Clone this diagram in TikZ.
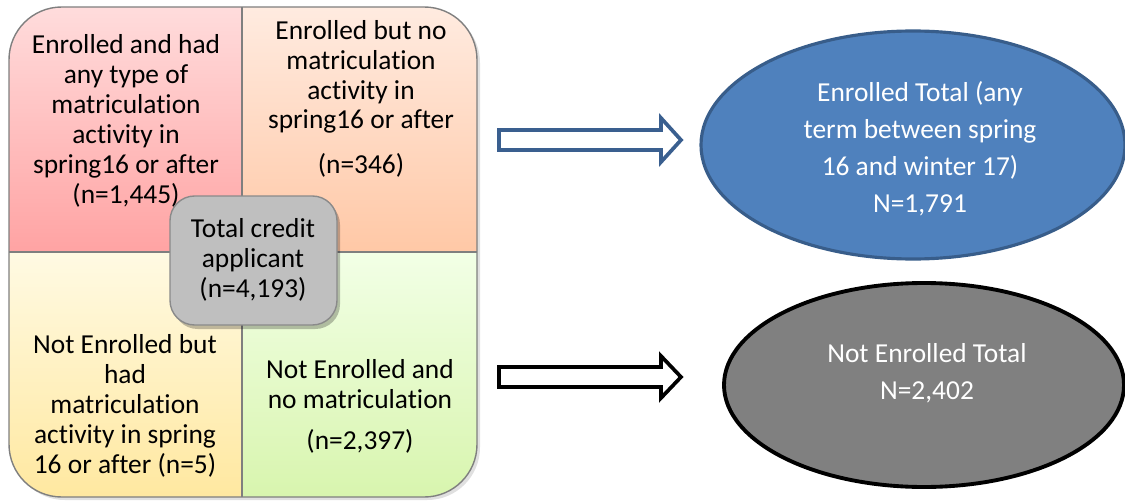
\documentclass[tikz,border=0pt]{standalone}
\usepackage{fontspec}
\setmainfont{Carlito}[Ligatures={NoCommon}]
\usetikzlibrary{shapes.geometric,shadows}
\definecolor{tlA}{HTML}{FFDCDC}\definecolor{tlB}{HTML}{FFA3A3}
\definecolor{trA}{HTML}{FFEBE0}\definecolor{trB}{HTML}{FFC8A6}
\definecolor{blA}{HTML}{FFFAE3}\definecolor{blB}{HTML}{FFE8A0}
\definecolor{brA}{HTML}{F2FFE6}\definecolor{brB}{HTML}{D8F5AE}
\definecolor{frame}{HTML}{7F7F7F}
\definecolor{blueF}{HTML}{4F81BD}\definecolor{blueS}{HTML}{385D8A}
\definecolor{arrowblue}{HTML}{3A5F8F}
\definecolor{grayF}{HTML}{808080}
\definecolor{boxF}{HTML}{BFBFBF}\definecolor{boxS}{HTML}{8A8A8A}
\begin{document}
\begin{tikzpicture}[x=0.02cm,y=-0.02cm,
  txt/.style={align=center,font=\fontsize{15.6}{17}\selectfont,inner sep=0pt},
  wtxt/.style={align=center,inner sep=0pt,text=white,font=\fontsize{15.6}{21}\selectfont},
  blockarrow/.style={line width=2.1pt,fill=white,line join=miter}]
\useasboundingbox (0,0) rectangle (1125,500);
% quadrants
\fill[black,opacity=0.12,rounded corners=30] (12,10) rectangle (480,500);
\begin{scope}
\clip[rounded corners=30] (9,7) rectangle (477,497);
\shade[top color=tlA,bottom color=tlB] (9,7) rectangle (242,252);
\shade[top color=trA,bottom color=trB] (242,7) rectangle (477,252);
\shade[top color=blA,bottom color=blB] (9,252) rectangle (242,497);
\shade[top color=brA,bottom color=brB] (242,252) rectangle (477,497);
\end{scope}
\draw[frame,line width=0.8pt] (242,7) -- (242,497) (9,252) -- (477,252);
\draw[frame,line width=0.8pt,rounded corners=30] (9,7) rectangle (477,497);
% quadrant texts
\node[txt] (tl) at (126,121) {Enrolled and had\\any type of\\matriculation\\activity in\\spring16 or after\\(n=1,445)};
\node[txt] (tr) at (361,77) {Enrolled but no\\matriculation\\activity in\\spring16 or after};
\node[txt] (trn) at (361,165) {(n=346)};
\node[txt] (bl) at (125,406) {Not Enrolled but\\had\\matriculation\\activity in spring\\16 or after (n=5)};
\node[txt] (br) at (360,384) {Not Enrolled and\\no matriculation};
\node[txt] (brn) at (360,441) {(n=2,397)};
% center box
\fill[black,opacity=0.25,rounded corners=14] (173,200) rectangle (340,329);
\draw[boxS,fill=boxF,line width=0.8pt,rounded corners=14] (170,196) rectangle (337,325);
\node[txt] (tot) at (253,260) {Total credit\\applicant\\(n=4,193)};
% arrows
\draw[blockarrow,draw=arrowblue] (499,130) -- (661,130) -- (661,118) -- (681,140) -- (661,162) -- (661,150) -- (499,150) -- cycle;
\draw[blockarrow,draw=black] (499,367) -- (661,367) -- (661,356) -- (681,377) -- (661,398) -- (661,387) -- (499,387) -- cycle;
% ellipses
\draw[blueS,fill=blueF,line width=1.8pt] (913,145) ellipse [x radius=212, y radius=114];
\node[wtxt] (et) at (920,149) {Enrolled Total (any\\term between spring\\16 and winter 17)\\N=1,791};
\draw[black,fill=grayF,line width=2.2pt] (924,385) ellipse [x radius=200, y radius=102];
\node[wtxt] (nt) at (927,373) {Not Enrolled Total\\N=2,402};
\end{tikzpicture}
\end{document}
